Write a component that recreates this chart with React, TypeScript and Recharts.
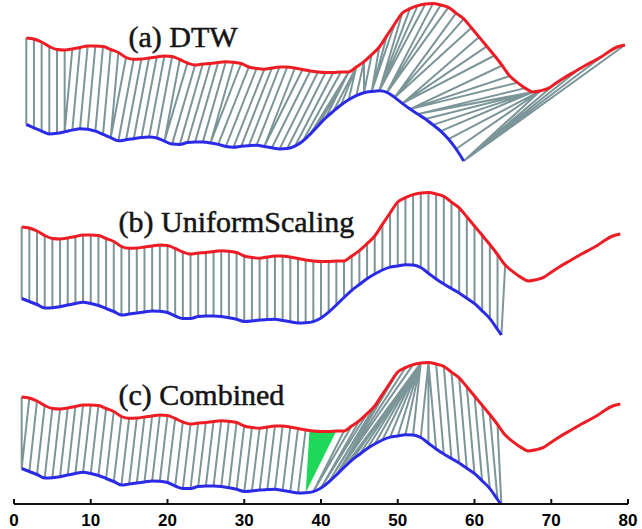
import React from 'react';
import { ComposedChart, Line, Area, XAxis, YAxis } from 'recharts';

const W = 642;
const H = 529;

// shared x axis
const xTicks = [0, 10, 20, 30, 40, 50, 60, 70, 80];

// red (candidate) sequence, sampled at x = 1..79
const redSeries = [
  73, 72, 69, 64.5, 61.5, 61, 62, 63.5, 65, 65,
  64.5, 61.5, 58.5, 53.5, 51.7, 52, 53, 54, 55, 54.5,
  51.5, 48, 46, 47, 47.5, 48.5, 49.2, 48.7, 47.5, 44,
  42.5, 41.7, 43, 44, 44, 43, 41.5, 40, 39, 38.5,
  38.5, 39, 39, 44, 49.3, 56.3, 64, 75.6, 87, 98,
  102.3, 105.4, 107, 107.6, 106, 103.7, 97.9, 92.2, 83.2, 74,
  64.7, 55.5, 45.5, 35, 28.4, 22.9, 19, 20.2, 22.6, 27.8,
  32.8, 37.4, 41.8, 46.2, 50.3, 54.5, 59.8, 64, 66,
];

// blue query at its raw length (panel a), x = 1..58
const blueRaw = [
  1.5, -1.8, -5.1, -7.9, -7.3, -5.8, -4.1, -2.7, -3.2, -5.2,
  -8.4, -11.7, -14.8, -13.8, -12.7, -11.6, -11.1, -12.0, -15.1, -18.1,
  -18.5, -16.5, -16, -16.1, -16.9, -18.4, -20.4, -21.2, -20.3, -19.7,
  -19.3, -20.5, -21.8, -22.9, -22.5, -20.2, -15.3, -8.1, 0, 8,
  14.7, 21, 26.2, 30.4, 33.2, 34.5, 35.2, 33.7, 28.6, 22.6,
  16.9, 11.9, 7.0, 1.1, -5.1, -13.1, -23, -35,
];

// blue query after uniform scaling (panels b, c), x = 1..63, last sample at 63.5
const blueScaled = [
  1.5, -1.5, -4.5, -8, -7.7, -6.7, -5, -3.5, -2.3, -3.5,
  -5.5, -8.5, -11.5, -15, -14, -13, -12, -11, -11.2, -12.5,
  -16, -18.5, -18.5, -16.5, -16, -16, -16.5, -17.7, -19.3, -21.5,
  -21, -20, -19.6, -19.3, -20.5, -21.7, -23, -22.8, -21.6, -18,
  -12.2, -5, 2.5, 9.7, 15.5, 21.3, 26, 30, 32.9, 34.1,
  35.3, 35.1, 32.5, 26.8, 21, 16, 11.5, 7.1, 1.7, -3.7,
  -10.8, -18.6, -29.5, -35,
];
const BLUE_SCALED_END = 63.5;

// DTW alignment (panel a): [red index, blue index]
const dtwPairs = [
  [1, 1], [2, 2], [3, 3], [4, 4], [5, 5], [6, 6], [7, 6], [8, 7], [9, 8], [10, 9],
  [11, 10], [12, 11], [13, 12], [14, 12], [15, 13], [16, 14], [17, 15], [18, 16], [19, 17], [20, 18],
  [21, 19], [22, 19], [23, 20], [24, 21], [25, 22], [26, 23], [27, 24], [28, 25], [29, 25], [30, 26],
  [31, 27], [32, 28], [33, 29], [34, 30], [35, 31], [36, 32], [37, 32], [38, 33], [39, 34], [40, 35],
  [41, 36], [42, 37],
  [43, 38], [43, 39], [43, 40], [44, 41], [44, 42], [44, 43], [45, 44], [45, 45],
  [46, 45], [47, 46], [48, 46], [49, 46], [50, 47], [51, 47], [52, 47], [53, 47],
  [54, 48], [55, 48], [56, 48], [57, 49], [58, 49], [59, 49], [60, 50], [61, 50], [62, 50],
  [63, 51], [64, 51], [65, 51], [66, 52],
  [67, 52], [67, 53], [67, 54], [67, 55], [68, 56], [68, 57], [68, 58],
  [70, 58], [73, 58], [76, 58], [79, 58],
];

// combined alignment (panel c): [red index, blue index]
const combinedPairs = [
  [1, 1], [2, 1], [3, 2], [4, 3], [5, 4], [6, 5], [7, 6], [8, 7], [9, 8], [10, 9],
  [11, 10], [12, 11], [13, 12], [14, 13], [15, 14], [16, 15], [17, 16], [18, 17], [19, 18], [20, 19],
  [21, 20], [22, 21], [23, 22], [24, 23], [25, 24], [26, 25], [27, 26], [28, 27], [29, 28], [30, 29],
  [31, 30], [32, 31], [33, 32], [34, 33], [35, 34], [36, 35], [37, 36], [38, 37],
  [43, 39], [44, 39], [45, 40], [46, 40], [47, 41], [48, 41], [49, 41], [50, 42], [51, 42], [52, 42],
  [53, 43], [53, 44], [53, 45], [53, 46], [53, 47], [53, 48], [53, 49], [53, 50], [53, 51], [53, 52],
  [54, 53], [54, 54], [54, 55], [55, 56], [56, 57], [57, 58], [58, 59], [59, 60], [60, 61], [61, 62],
  [62, 63], [63, 64],
];

// highlighted (green) warping wedge in panel c
const greenWedge = { blueIdx: 38, redFrom: 38.5, redTo: 42 };

// vertical placement of each panel's curves, and panel a's small shift
const PANEL_A = { red: 189, blue: 174, dx: 0.6 };
const PANEL_B = { red: 0, blue: 0, dx: 0 };
const PANEL_C = { red: -170, blue: -170, dx: 0 };

const RED = '#ee1c24';
const BLUE = '#2b2be6';
const GRAY = '#7b9598';
const GREEN = '#1fd85a';

const rawX = (i: number) => i; // 1-based index
const scaledX = (i: number) => Math.min(i, BLUE_SCALED_END);

function curve(values: number[], xOf: (i: number) => number, dy: number, dx: number) {
  return values.map((v, k) => ({ x: xOf(k + 1) + dx, y: v + dy }));
}

function connectors(
  pairs: number[][],
  blue: number[],
  blueX: (i: number) => number,
  off: { red: number; blue: number; dx: number }
) {
  const out: { x: number; y: number | null }[] = [];
  pairs.forEach(([r, b]) => {
    out.push({ x: r + off.dx, y: redSeries[r - 1] + off.red });
    out.push({ x: blueX(b) + off.dx, y: blue[b - 1] + off.blue });
    out.push({ x: blueX(b) + off.dx, y: null });
  });
  return out;
}

const uniformPairs = blueScaled.map((_, k) => [k + 1, k + 1]);

function redAt(x: number) {
  const lo = Math.floor(x);
  const hi = Math.ceil(x);
  const a = redSeries[lo - 1];
  const b = redSeries[hi - 1];
  return a + (b - a) * (x - lo);
}

function wedgeData() {
  const vb = blueScaled[greenWedge.blueIdx - 1] + PANEL_C.blue;
  const x0 = scaledX(greenWedge.blueIdx);
  const vTopL = redAt(greenWedge.redFrom) + PANEL_C.red;
  const vTopR = redAt(greenWedge.redTo) + PANEL_C.red;
  const t = (greenWedge.redFrom - x0) / (greenWedge.redTo - x0);
  return [
    { x: x0, g: [vb, vb] },
    { x: greenWedge.redFrom, g: [vb + (vTopR - vb) * t, vTopL] },
    { x: greenWedge.redTo, g: [vTopR, vTopR] },
  ];
}

export default function App() {
  const conA = connectors(dtwPairs, blueRaw, rawX, PANEL_A);
  const conB = connectors(uniformPairs, blueScaled, scaledX, PANEL_B);
  const conC = connectors(combinedPairs, blueScaled, scaledX, PANEL_C);

  const curves = [
    { key: 'ra', data: curve(redSeries, rawX, PANEL_A.red, PANEL_A.dx), color: RED },
    { key: 'ba', data: curve(blueRaw, rawX, PANEL_A.blue, PANEL_A.dx), color: BLUE },
    { key: 'rb', data: curve(redSeries, rawX, PANEL_B.red, PANEL_B.dx), color: RED },
    { key: 'bb', data: curve(blueScaled, scaledX, PANEL_B.blue, PANEL_B.dx), color: BLUE },
    { key: 'rc', data: curve(redSeries, rawX, PANEL_C.red, PANEL_C.dx), color: RED },
    { key: 'bc', data: curve(blueScaled, scaledX, PANEL_C.blue, PANEL_C.dx), color: BLUE },
  ];

  const titleStyle: React.CSSProperties = {
    fontFamily: '"Liberation Serif", "Times New Roman", serif',
    fontSize: 30,
  };

  return (
    <div style={{ position: 'absolute', left: 0, top: 0, width: W, height: H, background: '#fff' }}>
      <ComposedChart width={W} height={H} margin={{ top: 0, right: 14, bottom: 0, left: 14 }}>
        <XAxis
          dataKey="x"
          type="number"
          domain={[0, 80]}
          ticks={xTicks}
          interval={0}
          allowDataOverflow
          height={25}
          tickSize={-5}
          tickMargin={15}
          axisLine={{ stroke: '#111', strokeWidth: 2 }}
          tickLine={{ stroke: '#111', strokeWidth: 2 }}
          tick={{
            fill: '#000',
            fontSize: 17,
            fontWeight: 'bold',
            fontFamily: '"Liberation Sans", Arial, sans-serif',
          }}
        />
        <YAxis hide type="number" domain={[-204, 300]} allowDataOverflow width={0} />
        {[conA, conB, conC].map((d, k) => (
          <Line
            key={'con' + k}
            data={d}
            dataKey="y"
            type="linear"
            stroke={GRAY}
            strokeWidth={2}
            dot={false}
            activeDot={false}
            connectNulls={false}
            isAnimationActive={false}
          />
        ))}
        <Area
          data={wedgeData()}
          dataKey="g"
          type="linear"
          stroke="none"
          fill={GREEN}
          fillOpacity={1}
          dot={false}
          activeDot={false}
          isAnimationActive={false}
        />
        {curves.map((c) => (
          <Line
            key={c.key}
            data={c.data}
            dataKey="y"
            type="monotone"
            stroke={c.color}
            strokeWidth={3}
            dot={false}
            activeDot={false}
            isAnimationActive={false}
          />
        ))}
      </ComposedChart>
      <svg
        width={W}
        height={H}
        style={{ position: 'absolute', left: 0, top: 0, pointerEvents: 'none' }}
      >
        <g fill="#141414" stroke="#141414" strokeWidth={0.5} style={titleStyle}>
          <text x={128.5} y={47}>(a) DTW</text>
          <text x={118.5} y={232}>(b) UniformScaling</text>
          <text x={118.5} y={405}>(c) Combined</text>
        </g>
      </svg>
    </div>
  );
}
